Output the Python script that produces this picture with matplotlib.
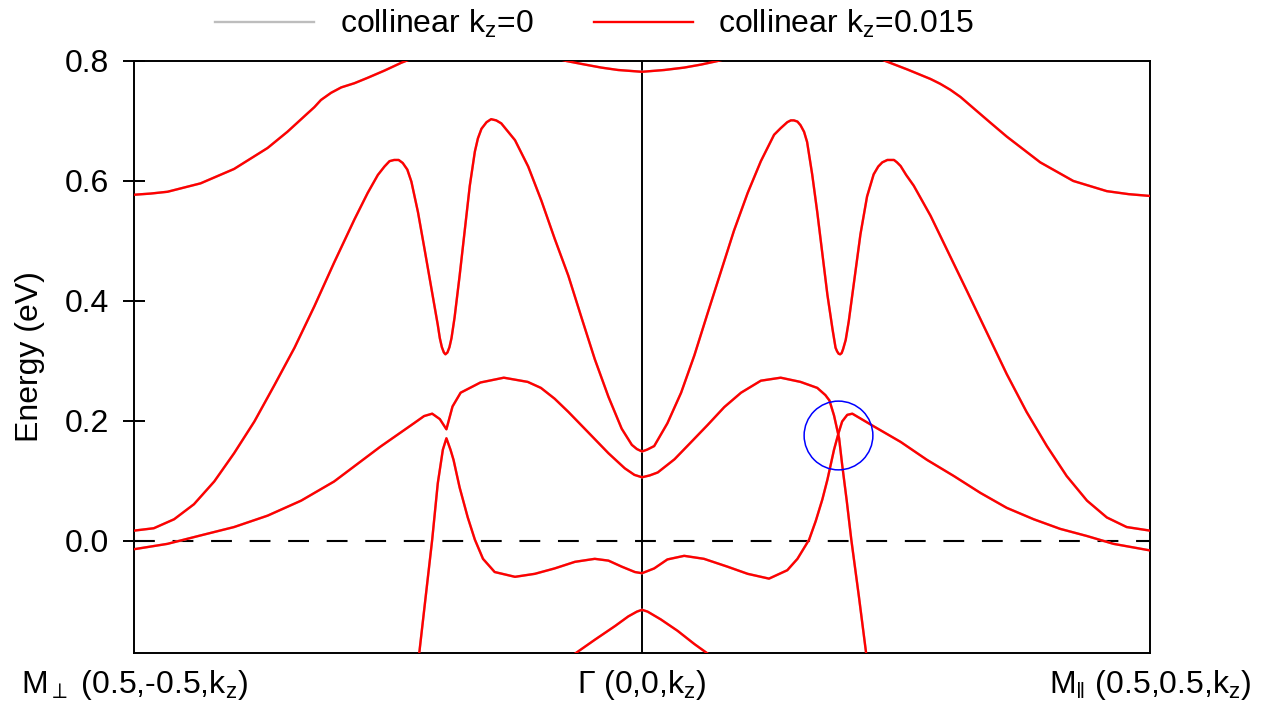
import matplotlib
matplotlib.use("Agg")
import matplotlib.pyplot as plt

plt.rcParams['font.family'] = ['Liberation Sans', 'DejaVu Sans']
plt.rcParams['mathtext.fontset'] = 'custom'
plt.rcParams['mathtext.rm'] = 'Liberation Sans'
plt.rcParams['mathtext.it'] = 'Liberation Sans'
plt.rcParams['mathtext.sf'] = 'Liberation Sans'

# ---- data: path coordinate k (M_perp=0, Gamma=1, M_par=2) and energy (eV) ----
kpt_pos = [0, 1, 2]
kpt_labels = [r'M$_{\perp}$ (0.5,-0.5,k$_{\mathrm{z}}$)',
              r'Γ (0,0,k$_{\mathrm{z}}$)',
              r'M$_{\Vert}$ (0.5,0.5,k$_{\mathrm{z}}$)']
yticks = [0.0, 0.2, 0.4, 0.6, 0.8]

bandA1_k = [0, 0.033, 0.066, 0.131, 0.197, 0.263, 0.302, 0.342, 0.355, 0.368, 0.388, 0.408, 0.434, 0.460,
            0.493, 0.526, 0.559]
bandA1_E = [0.577, 0.579, 0.582, 0.596, 0.620, 0.655, 0.682, 0.713, 0.723, 0.735, 0.747, 0.756, 0.763, 0.772,
            0.784, 0.797, 0.808]
bandA2_k = [1.456, 1.479, 1.522, 1.568, 1.587, 1.607, 1.627, 1.653, 1.686, 1.718, 1.784, 1.849, 1.915,
            1.958, 2.0]
bandA2_E = [0.808, 0.800, 0.786, 0.770, 0.762, 0.752, 0.740, 0.721, 0.697, 0.674, 0.631, 0.600, 0.583,
            0.578, 0.575]

bandG_k = [0.828, 0.851, 0.888, 0.920, 0.953, 1.0, 1.044, 1.083, 1.116, 1.149, 1.172]
bandG_E = [0.805, 0.800, 0.794, 0.789, 0.785, 0.782, 0.785, 0.789, 0.794, 0.800, 0.805]

bandB_k = [0, 0.039, 0.079, 0.118, 0.158, 0.197, 0.237, 0.276, 0.316, 0.355, 0.394, 0.434, 0.460, 0.480,
           0.493, 0.503, 0.512, 0.521, 0.529, 0.538, 0.546, 0.559, 0.572, 0.585, 0.598, 0.602, 0.606,
           0.610, 0.613, 0.617, 0.621, 0.625, 0.631, 0.641, 0.651, 0.661, 0.671, 0.677, 0.684, 0.694,
           0.703, 0.713, 0.723, 0.750, 0.776, 0.802, 0.828, 0.855, 0.881, 0.907, 0.934, 0.960, 0.980,
           0.990, 1.0,
           1.010, 1.024, 1.050, 1.077, 1.103, 1.129, 1.155, 1.181, 1.208, 1.234, 1.260, 1.273, 1.286,
           1.293, 1.299, 1.306, 1.312, 1.319, 1.325, 1.335, 1.345, 1.355, 1.365, 1.375, 1.381, 1.384,
           1.387, 1.390, 1.393, 1.396, 1.401, 1.407, 1.417, 1.430, 1.443, 1.456, 1.465, 1.473, 1.483,
           1.489, 1.496, 1.502, 1.509, 1.520, 1.535, 1.568, 1.600, 1.640, 1.679, 1.718, 1.757, 1.797,
           1.836, 1.876, 1.915, 1.954, 2.0]
bandB_E = [0.017, 0.021, 0.036, 0.061, 0.099, 0.146, 0.199, 0.259, 0.322, 0.391, 0.464, 0.536, 0.580, 0.610,
           0.624, 0.633, 0.635, 0.635, 0.630, 0.619, 0.599, 0.548, 0.486, 0.423, 0.360, 0.338, 0.323,
           0.314, 0.311, 0.314, 0.323, 0.338, 0.372, 0.442, 0.517, 0.592, 0.649, 0.671, 0.687, 0.698,
           0.703, 0.701, 0.696, 0.668, 0.624, 0.567, 0.504, 0.442, 0.372, 0.303, 0.240, 0.187, 0.160,
           0.153, 0.149,
           0.152, 0.158, 0.196, 0.247, 0.309, 0.379, 0.448, 0.517, 0.580, 0.633, 0.677, 0.688, 0.698,
           0.701, 0.701, 0.699, 0.693, 0.682, 0.665, 0.611, 0.548, 0.479, 0.410, 0.353, 0.322, 0.316,
           0.312, 0.311, 0.313, 0.320, 0.335, 0.366, 0.429, 0.511, 0.574, 0.611, 0.624, 0.631, 0.635,
           0.635, 0.635, 0.631, 0.625, 0.610, 0.592, 0.542, 0.486, 0.416, 0.347, 0.278, 0.215, 0.158,
           0.108, 0.067, 0.039, 0.023, 0.017]

bandC_k = [0, 0.066, 0.131, 0.197, 0.263, 0.329, 0.394, 0.485, 0.551, 0.571, 0.587, 0.602, 0.615, 0.627,
           0.643, 0.682, 0.728, 0.775, 0.801, 0.828, 0.855, 0.894, 0.934, 0.966, 0.985, 1.0,
           1.015, 1.031, 1.064, 1.096, 1.129, 1.162, 1.195, 1.234, 1.273, 1.312, 1.345, 1.361, 1.369,
           1.378, 1.388, 1.394, 1.403, 1.412, 1.427, 1.441, 1.450]
bandC_E = [-0.014, -0.005, 0.009, 0.023, 0.042, 0.067, 0.099, 0.157, 0.196, 0.208, 0.212, 0.203, 0.186, 0.224,
           0.247, 0.264, 0.272, 0.265, 0.255, 0.237, 0.215, 0.181, 0.146, 0.121, 0.110, 0.106,
           0.109, 0.114, 0.136, 0.164, 0.193, 0.223, 0.247, 0.267, 0.272, 0.265, 0.255, 0.243, 0.234,
           0.209, 0.171, 0.127, 0.067, 0.002, -0.093, -0.186, -0.244]

bandD_k = [0.559, 0.575, 0.587, 0.598, 0.608, 0.615, 0.623, 0.629, 0.641, 0.657, 0.671, 0.687, 0.710, 0.750,
           0.789, 0.828, 0.868, 0.907, 0.934, 0.960, 0.986, 1.0,
           1.024, 1.050, 1.083, 1.122, 1.168, 1.208, 1.250, 1.286, 1.306, 1.329, 1.342, 1.355, 1.365,
           1.378, 1.387, 1.394, 1.404, 1.414, 1.430, 1.456, 1.509, 1.561, 1.614, 1.666, 1.718, 1.771,
           1.823, 1.876, 1.928, 2.0]
bandD_E = [-0.206, -0.087, 0.002, 0.096, 0.152, 0.171, 0.152, 0.135, 0.089, 0.039, 0.002, -0.030, -0.052, -0.060,
           -0.055, -0.046, -0.035, -0.030, -0.033, -0.043, -0.052, -0.054,
           -0.046, -0.031, -0.025, -0.030, -0.043, -0.055, -0.063, -0.049, -0.030, 0.002, 0.033, 0.069, 0.102,
           0.152, 0.180, 0.199, 0.210, 0.212, 0.204, 0.191, 0.165, 0.135, 0.108, 0.080, 0.055, 0.036,
           0.020, 0.008, -0.005, -0.016]

bandL_k = [0.848, 0.907, 0.947, 0.973, 0.990, 1.0, 1.011, 1.037, 1.070, 1.103, 1.149]
bandL_E = [-0.200, -0.165, -0.142, -0.126, -0.118, -0.115, -0.118, -0.131, -0.150, -0.172, -0.200]

circle_k = [1.386]
circle_E = [0.177]

# ---- figure ----
fig = plt.figure(figsize=(12.7, 7.14), dpi=100)
ax = fig.add_axes([134/1270, 1-653/714, (1150-134)/1270, (653-61)/714])

bands = [
    (bandA1_k, bandA1_E),
    (bandA2_k, bandA2_E),
    (bandG_k, bandG_E),
    (bandB_k, bandB_E),
    (bandC_k, bandC_E),
    (bandD_k, bandD_E),
    (bandL_k, bandL_E),
]

lw = 1.7
for i, (k, E) in enumerate(bands):
    ax.plot(k, E, color='#bdbdbd', lw=lw, solid_joinstyle='round',
            label=r'collinear k$_{\mathrm{z}}$=0' if i == 0 else None, zorder=2)
for i, (k, E) in enumerate(bands):
    ax.plot(k, E, color='#ff0000', lw=lw, solid_joinstyle='round',
            label=r'collinear k$_{\mathrm{z}}$=0.015' if i == 0 else None, zorder=3)

ax.axhline(0.0, color='black', lw=1.5, ls=(0, (10, 8.5)), zorder=1)
ax.axvline(1.0, color='black', lw=1.4, zorder=1)

ax.plot(circle_k, circle_E, marker='o', ms=49.5, mfc='none', mec='#0000ff', mew=1.1, ls='none', zorder=4)

ax.set_xlim(0, 2)
ax.set_ylim(-0.187, 0.8)
ax.set_xticks(kpt_pos)
ax.set_xticklabels(kpt_labels)
ax.set_yticks(yticks)
ax.set_yticklabels([f'{v:.1f}' for v in yticks])
ax.tick_params(axis='x', length=0, pad=11, labelsize=23)
ax.tick_params(axis='y', direction='inout', length=16, width=1.4, pad=10, labelsize=23, right=False)
for s in ax.spines.values():
    s.set_linewidth(1.4)
ax.set_ylabel('Energy (eV)', fontsize=23, labelpad=14)

fig.legend(loc='center left', bbox_to_anchor=(215/1270, 1-24/714), ncol=2, frameon=False,
           fontsize=23, handlelength=3.1, handletextpad=0.8, columnspacing=1.9,
           borderpad=0, borderaxespad=0)

fig.savefig('out.png', dpi=100)
